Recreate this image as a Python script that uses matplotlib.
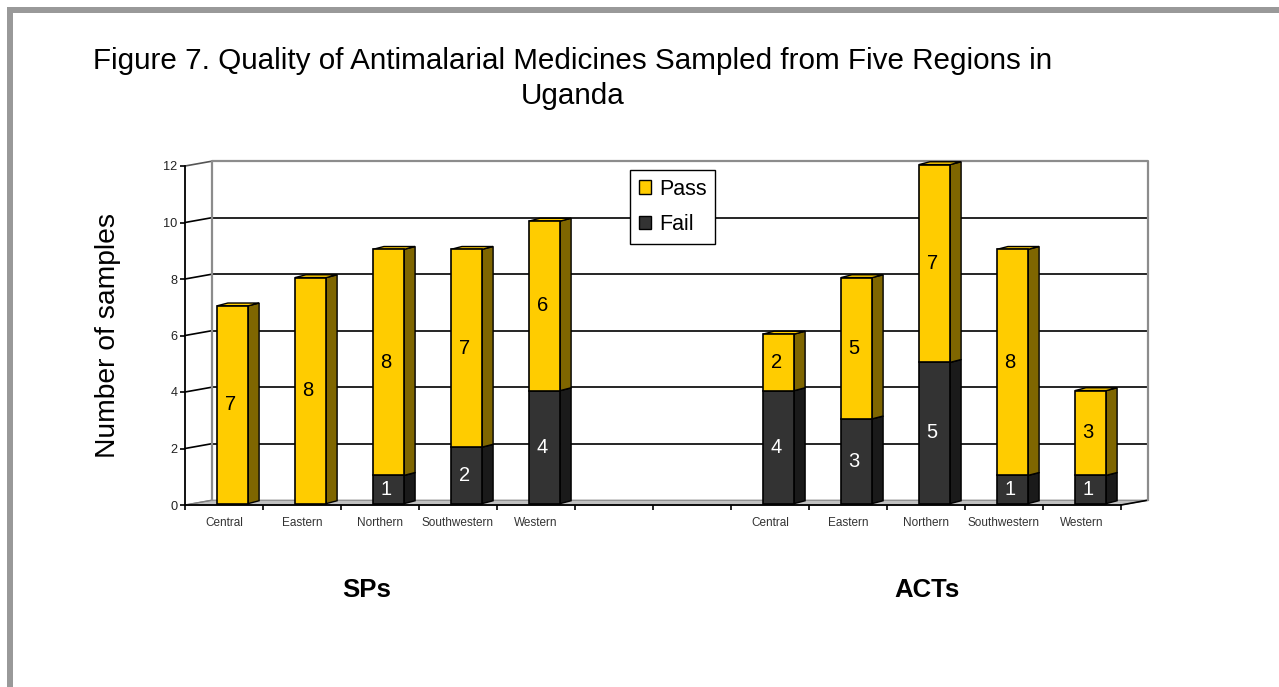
import matplotlib
matplotlib.use('Agg')
import matplotlib.pyplot as plt
from matplotlib.patches import Polygon, Rectangle, Patch

plt.rcParams['font.family'] = ['Liberation Sans', 'DejaVu Sans']

W, H = 1279, 687

# data, one slot per category, the two empty slots split SPs and ACTs
regions = ['Central', 'Eastern', 'Northern', 'Southwestern', 'Western', '', '',
           'Central', 'Eastern', 'Northern', 'Southwestern', 'Western']
pass_vals = [7, 8, 8, 7, 6, 0, 0, 2, 5, 7, 8, 3]
fail_vals = [0, 0, 1, 2, 4, 0, 0, 4, 3, 5, 1, 1]
y_ticks = [0, 2, 4, 6, 8, 10, 12]

YELLOW, YELLOW_SIDE = '#FFCC00', '#7F6600'
DARK, DARK_SIDE = '#333333', '#1A1A1A'

# 3D look: offsets of back wall and of bar sides, in data units
WALL_DX, WALL_DY = 0.345, 0.17
BAR_DX, BAR_DY = 0.14, 0.1
BAR_W, BAR_OFF = 0.40, 0.61
BASE = 0.05


def fx(px):
    return px / W


def fy(px):
    return 1 - px / H


fig = plt.figure(figsize=(W / 100, H / 100), dpi=100)
ax = fig.add_axes([fx(185), fy(505), (1121 - 185) / W, (505 - 166) / H])
ax.set_xlim(0, 12)
ax.set_ylim(0, 12)
ax.patch.set_visible(False)

# gray page border, top and left only
fig.add_artist(Rectangle((fx(7), fy(13)), 1 - fx(7), 6 / H, transform=fig.transFigure, color='#999999', lw=0))
fig.add_artist(Rectangle((fx(7), 0), 6 / W, fy(7), transform=fig.transFigure, color='#999999', lw=0))

# floor and back wall
ax.add_patch(Polygon([(0, 0), (12, 0), (12 + WALL_DX, WALL_DY), (WALL_DX, WALL_DY)],
                     closed=True, fc='#C0C0C0', ec='#808080', lw=0.8, zorder=1, clip_on=False))
ax.plot([WALL_DX, WALL_DX, 12 + WALL_DX, 12 + WALL_DX],
        [WALL_DY, 12 + WALL_DY, 12 + WALL_DY, WALL_DY],
        color='#8C8C8C', lw=1.6, zorder=3, clip_on=False)
ax.plot([12, 12 + WALL_DX], [0, WALL_DY], color='black', lw=1.2, zorder=2, clip_on=False)
for v in y_ticks:
    if v == 0:
        ax.plot([0, WALL_DX], [0, WALL_DY], color='#808080', lw=1.0, zorder=2, clip_on=False)
    elif v == 12:
        ax.plot([0, WALL_DX], [v, v + WALL_DY], color='#555555', lw=1.2, zorder=2, clip_on=False)
    else:
        ax.plot([0, WALL_DX], [v, v + WALL_DY], color='black', lw=1.2, zorder=2, clip_on=False)
        ax.plot([WALL_DX, 12 + WALL_DX], [v + WALL_DY, v + WALL_DY], color='black', lw=1.2, zorder=2, clip_on=False)

# stacked bars with a side face
for i in range(len(regions)):
    x0 = i + BAR_OFF - BAR_W / 2
    x1 = x0 + BAR_W
    bottom = BASE
    for val, col, side, txt in [(fail_vals[i], DARK, DARK_SIDE, 'white'),
                                (pass_vals[i], YELLOW, YELLOW_SIDE, 'black')]:
        if val == 0:
            continue
        top = bottom + val
        ax.bar(i + BAR_OFF, val, width=BAR_W, bottom=bottom, color=col, edgecolor='black',
               linewidth=1.2, zorder=5, clip_on=False)
        ax.add_patch(Polygon([(x1, bottom), (x1 + BAR_DX, bottom + BAR_DY),
                              (x1 + BAR_DX, top + BAR_DY), (x1, top)],
                             closed=True, fc=side, ec='black', lw=1.0, zorder=4, clip_on=False))
        ax.add_patch(Polygon([(x0, top), (x1, top), (x1 + BAR_DX, top + BAR_DY), (x0 + BAR_DX, top + BAR_DY)],
                             closed=True, fc=col, ec='black', lw=1.0, zorder=4, clip_on=False))
        ax.text(i + BAR_OFF - 0.03, bottom + val / 2, str(val), color=txt, fontsize=14.5,
                ha='center', va='center', zorder=6)
        bottom = top

# axes and ticks
for s in ['top', 'right']:
    ax.spines[s].set_visible(False)
for s in ['left', 'bottom']:
    ax.spines[s].set_linewidth(1.3)
    ax.spines[s].set_zorder(7)
ax.set_yticks(y_ticks)
ax.tick_params(axis='y', labelsize=9.2, length=3.5, width=1.2, pad=2, labelcolor='#222222')
ax.set_xticks(range(13))
ax.set_xticklabels([])
ax.tick_params(axis='x', which='major', length=3.5, width=1.2)
ax.set_xticks([i + 0.5 for i in range(12)], minor=True)
ax.set_xticklabels(regions, minor=True, fontsize=8.5, color='#333333')
ax.tick_params(axis='x', which='minor', length=0, pad=9)

# legend
ax.legend(handles=[Patch(fc=YELLOW, ec='black', lw=1.0, label='Pass'),
                   Patch(fc=DARK, ec='black', lw=1.0, label='Fail')],
          loc='upper left', bbox_to_anchor=(fx(630), fy(170)), bbox_transform=fig.transFigure,
          fontsize=15.5, frameon=True, fancybox=False, framealpha=1, edgecolor='black',
          handlelength=0.56, handleheight=0.56, handletextpad=0.38, labelspacing=0.67,
          borderpad=0.4, borderaxespad=0).set_zorder(10)

# texts
fig.text(fx(573), fy(61), 'Figure 7. Quality of Antimalarial Medicines Sampled from Five Regions in',
         fontsize=21.3, ha='center', va='center')
fig.text(fx(573), fy(96), 'Uganda', fontsize=21.3, ha='center', va='center')
fig.text(fx(108), fy(335), 'Number of samples', fontsize=20.3, rotation=90, ha='center', va='center')
fig.text(fx(367), fy(590), 'SPs', fontsize=18.5, fontweight='bold', ha='center', va='center')
fig.text(fx(927), fy(590), 'ACTs', fontsize=18.5, fontweight='bold', ha='center', va='center')

fig.savefig('out.png', dpi=100)
